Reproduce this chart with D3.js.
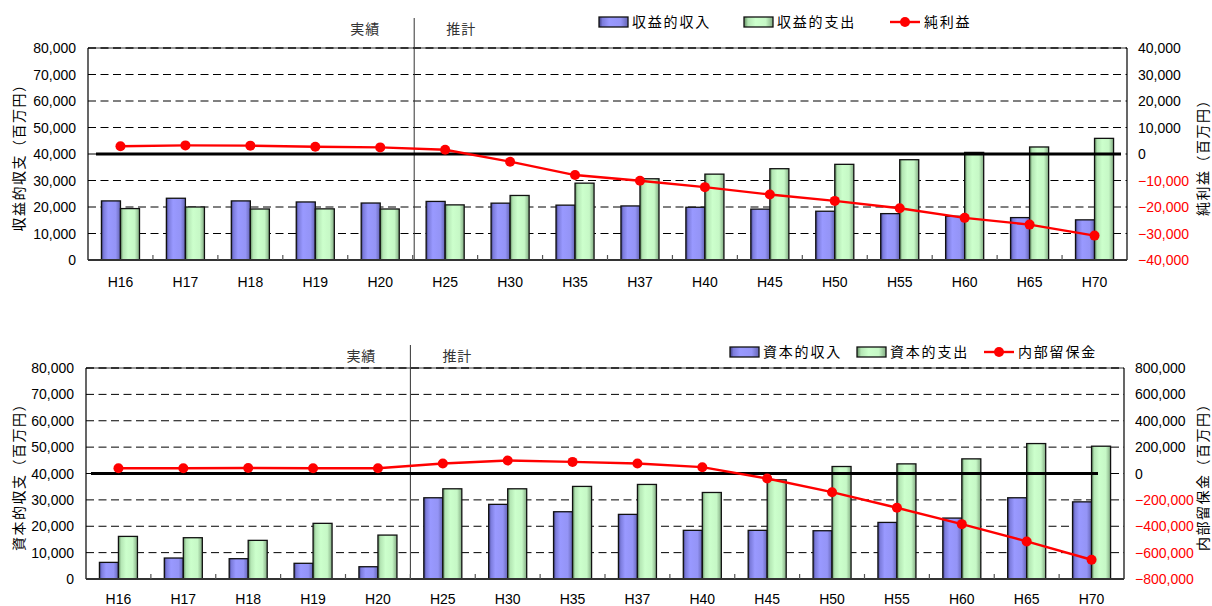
<!DOCTYPE html>
<html>
<head>
<meta charset="utf-8">
<script src="https://cdn.jsdelivr.net/npm/d3@7/dist/d3.min.js"></script>
<style>
  html, body { margin: 0; padding: 0; background: #fff; }
  svg { display: block; }
  .num { font-family: "Liberation Sans", Arial, sans-serif; }
  .jp { font-family: "Noto Sans CJK JP", "Noto Sans", sans-serif; }
</style>
</head>
<body>
<svg id="chart" width="1212" height="606"></svg>
<script>
// Fiscal-year categories (Heisei years)
const categories = ["H16", "H17", "H18", "H19", "H20", "H25", "H30", "H35", "H37", "H40", "H45", "H50", "H55", "H60", "H65", "H70"];

// Revenue account (百万円)
const revenueIncome  = [22300, 23300, 22300, 21900, 21500, 22100, 21450, 20700, 20400, 19900, 19200, 18400, 17500, 16500, 16000, 15150];
const revenueExpense = [19400, 20000, 19250, 19300, 19250, 20800, 24350, 29000, 30650, 32400, 34450, 36100, 37850, 40600, 42650, 45900];
const netProfit      = [2900, 3250, 3150, 2750, 2500, 1600, -2900, -7950, -10100, -12500, -15300, -17700, -20450, -24100, -26650, -30800];

// Capital account (百万円)
const capitalIncome  = [6300, 7950, 7700, 5950, 4650, 30800, 28300, 25500, 24500, 18450, 18450, 18300, 21450, 23100, 30800, 29250];
const capitalExpense = [16150, 15650, 14650, 21100, 16650, 34200, 34200, 35100, 35850, 32800, 37600, 42650, 43650, 45550, 51350, 50350];
const reserves       = [40000, 40000, 42000, 40000, 40000, 75700, 98500, 88000, 75700, 48000, -38000, -141600, -260000, -384000, -515000, -654000];

// Axis ticks
const leftTicks = [0, 10000, 20000, 30000, 40000, 50000, 60000, 70000, 80000];
const profitTicks = [-40000, -30000, -20000, -10000, 0, 10000, 20000, 30000, 40000];
const reserveTicks = [-800000, -600000, -400000, -200000, 0, 200000, 400000, 600000, 800000];

// Text labels
const topSeriesNames = ["収益的収入", "収益的支出", "純利益"];
const bottomSeriesNames = ["資本的収入", "資本的支出", "内部留保金"];
const topTitles = ["収益的収支（百万円）", "純利益（百万円）"];
const bottomTitles = ["資本的収支（百万円）", "内部留保金（百万円）"];
const periodLabels = ["実績", "推計"];

const svg = d3.select("#chart");
const fmt = d3.format(",");
const defs = svg.append("defs");

function barGradient(id, stops) {
  const g = defs.append("linearGradient").attr("id", id)
    .attr("x1", "0%").attr("x2", "100%").attr("y1", "0%").attr("y2", "0%");
  stops.forEach(([o, c]) => g.append("stop").attr("offset", o).attr("stop-color", c));
}
barGradient("gBlue", [["0%", "#3c3c80"], ["12%", "#7c7cdc"], ["35%", "#9999ff"], ["75%", "#9494f6"], ["100%", "#6464b4"]]);
barGradient("gGreen", [["0%", "#5e8a5e"], ["14%", "#b4e6b4"], ["40%", "#ccffcc"], ["75%", "#c6f8c6"], ["100%", "#82aa82"]]);

function drawPanel(cfg) {
  const g = svg.append("g");
  const x = d3.scaleBand().domain(categories).range([cfg.left, cfg.right]).padding(0);
  const bw = x.bandwidth() * 0.293;
  const yL = d3.scaleLinear().domain([0, 80000]).range([cfg.bottom, cfg.top]);
  const yR = d3.scaleLinear().domain(cfg.rightDomain).range([cfg.bottom, cfg.top]);

  // dashed gridlines
  g.append("g").selectAll("line").data(leftTicks.filter(t => t > 0 && t < 80000)).join("line")
    .attr("x1", cfg.left).attr("x2", cfg.right)
    .attr("y1", d => yL(d)).attr("y2", d => yL(d))
    .attr("stroke", "#000").attr("stroke-width", 1).attr("stroke-dasharray", "8,4.5");
  // top border (dashed over grey)
  g.append("line").attr("x1", cfg.left).attr("x2", cfg.right).attr("y1", cfg.top).attr("y2", cfg.top)
    .attr("stroke", "#999").attr("stroke-width", 2);
  g.append("line").attr("x1", cfg.left).attr("x2", cfg.right).attr("y1", cfg.top).attr("y2", cfg.top)
    .attr("stroke", "#333").attr("stroke-width", 2).attr("stroke-dasharray", "8,4.5");

  // left and right frame
  g.append("line").attr("x1", cfg.left).attr("x2", cfg.left).attr("y1", cfg.top).attr("y2", cfg.bottom)
    .attr("stroke", "#000").attr("stroke-width", 1.2);
  g.append("line").attr("x1", cfg.right).attr("x2", cfg.right).attr("y1", cfg.top).attr("y2", cfg.bottom)
    .attr("stroke", "#000").attr("stroke-width", 1.2);

  // period separator
  const sepX = x("H25") + cfg.sepShift;
  g.append("line").attr("x1", sepX).attr("x2", sepX).attr("y1", cfg.sepTop).attr("y2", cfg.bottom)
    .attr("stroke", "#333").attr("stroke-width", 1);
  g.append("text").attr("class", "jp").attr("x", sepX - 49).attr("y", cfg.sepTop + 16)
    .attr("text-anchor", "middle").attr("font-size", 14).attr("fill", "#333").attr("letter-spacing", 1)
    .text(periodLabels[0]);
  g.append("text").attr("class", "jp").attr("x", sepX + 47).attr("y", cfg.sepTop + 16)
    .attr("text-anchor", "middle").attr("font-size", 14).attr("fill", "#333").attr("letter-spacing", 1)
    .text(periodLabels[1]);

  // bars
  const rows = categories.map((c, i) => ({ c, a: cfg.barsA[i], b: cfg.barsB[i], v: cfg.line[i] }));
  g.append("g").selectAll("rect").data(rows).join("rect")
    .attr("x", d => x(d.c) + x.bandwidth() / 2 - bw).attr("width", bw)
    .attr("y", d => yL(d.a)).attr("height", d => yL(0) - yL(d.a))
    .attr("fill", "url(#gBlue)").attr("stroke", "#111").attr("stroke-width", 1.3);
  g.append("g").selectAll("rect").data(rows).join("rect")
    .attr("x", d => x(d.c) + x.bandwidth() / 2).attr("width", bw)
    .attr("y", d => yL(d.b)).attr("height", d => yL(0) - yL(d.b))
    .attr("fill", "url(#gGreen)").attr("stroke", "#111").attr("stroke-width", 1.3);

  // bottom axis line and inward ticks
  g.append("line").attr("x1", cfg.left).attr("x2", cfg.right).attr("y1", cfg.bottom).attr("y2", cfg.bottom)
    .attr("stroke", "#333").attr("stroke-width", 2);
  g.append("g").selectAll("line").data(categories.slice(1)).join("line")
    .attr("x1", d => x(d)).attr("x2", d => x(d))
    .attr("y1", cfg.bottom).attr("y2", cfg.bottom - 5)
    .attr("stroke", "#555").attr("stroke-width", 1.2);

  // zero line of the right axis
  g.append("line").attr("x1", cfg.zeroX[0]).attr("x2", cfg.zeroX[1])
    .attr("y1", yR(0)).attr("y2", yR(0))
    .attr("stroke", "#000").attr("stroke-width", 3.2);

  // line series
  const line = d3.line().x(d => x(d.c) + x.bandwidth() / 2).y(d => yR(d.v));
  g.append("path").datum(rows).attr("d", line).attr("fill", "none")
    .attr("stroke", "#ff0000").attr("stroke-width", 2.4);
  g.append("g").selectAll("circle").data(rows).join("circle")
    .attr("cx", d => x(d.c) + x.bandwidth() / 2).attr("cy", d => yR(d.v)).attr("r", 5)
    .attr("fill", "#ff0000");

  // left tick labels
  g.append("g").selectAll("text").data(leftTicks).join("text")
    .attr("class", "num").attr("x", cfg.left - 12).attr("y", d => yL(d)).attr("dy", "0.36em")
    .attr("text-anchor", "end").attr("font-size", 14).attr("fill", "#000")
    .text(d => fmt(d));
  // right tick labels
  g.append("g").selectAll("text").data(cfg.rightTicks).join("text")
    .attr("class", "num").attr("x", cfg.right + 11).attr("y", d => yR(d)).attr("dy", "0.36em")
    .attr("text-anchor", "start").attr("font-size", 14)
    .attr("fill", d => d < 0 ? "#ff0000" : "#000")
    .text(d => d < 0 ? "\u2212" + fmt(-d) : fmt(d));

  // category labels
  g.append("g").selectAll("text").data(categories).join("text")
    .attr("class", "num").attr("x", d => x(d) + x.bandwidth() / 2).attr("y", cfg.bottom + cfg.catDy)
    .attr("text-anchor", "middle").attr("font-size", 14).attr("fill", "#000")
    .text(d => d);

  // axis titles
  const midY = (cfg.top + cfg.bottom) / 2;
  g.append("text").attr("class", "jp").attr("transform", `translate(${24},${midY}) rotate(-90)`)
    .attr("text-anchor", "middle").attr("font-size", 14).attr("letter-spacing", 1.5).attr("fill", "#000")
    .text(cfg.titles[0]);
  g.append("text").attr("class", "jp").attr("transform", `translate(${1208},${midY}) rotate(-90)`)
    .attr("text-anchor", "middle").attr("font-size", 14).attr("letter-spacing", 1.5).attr("fill", "#000")
    .text(cfg.titles[1]);

  // legend
  const lg = g.append("g").attr("transform", `translate(0,${cfg.legendY})`);
  const L = cfg.legendX;
  lg.append("rect").attr("x", L[0]).attr("y", -5).attr("width", 29).attr("height", 10)
    .attr("fill", "url(#gBlue)").attr("stroke", "#111").attr("stroke-width", 1.3);
  lg.append("rect").attr("x", L[1]).attr("y", -5).attr("width", 29).attr("height", 10)
    .attr("fill", "url(#gGreen)").attr("stroke", "#111").attr("stroke-width", 1.3);
  lg.append("line").attr("x1", L[2]).attr("x2", L[2] + 30).attr("y1", 0).attr("y2", 0)
    .attr("stroke", "#ff0000").attr("stroke-width", 2.4);
  lg.append("circle").attr("cx", L[2] + 15).attr("cy", 0).attr("r", 5).attr("fill", "#ff0000");
  cfg.names.forEach((n, i) => {
    lg.append("text").attr("class", "jp").attr("x", L[i] + (i < 2 ? 33 : 34)).attr("y", 0).attr("dy", "0.36em")
      .attr("font-size", 14).attr("letter-spacing", 1.8).attr("fill", "#000").text(n);
  });
}

drawPanel({
  left: 88, right: 1127, top: 48, bottom: 260,
  rightDomain: [-40000, 40000], rightTicks: profitTicks,
  barsA: revenueIncome, barsB: revenueExpense, line: netProfit,
  zeroX: [96, 1121], sepShift: 1.5, sepTop: 18,
  titles: topTitles, names: topSeriesNames,
  legendY: 22, legendX: [599, 744, 890], catDy: 27
});

drawPanel({
  left: 86, right: 1124, top: 368, bottom: 579,
  rightDomain: [-800000, 800000], rightTicks: reserveTicks,
  barsA: capitalIncome, barsB: capitalExpense, line: reserves,
  zeroX: [91, 1098], sepShift: 0, sepTop: 345,
  titles: bottomTitles, names: bottomSeriesNames,
  legendY: 352, legendX: [730, 857, 984], catDy: 25
});
</script>
</body>
</html>
